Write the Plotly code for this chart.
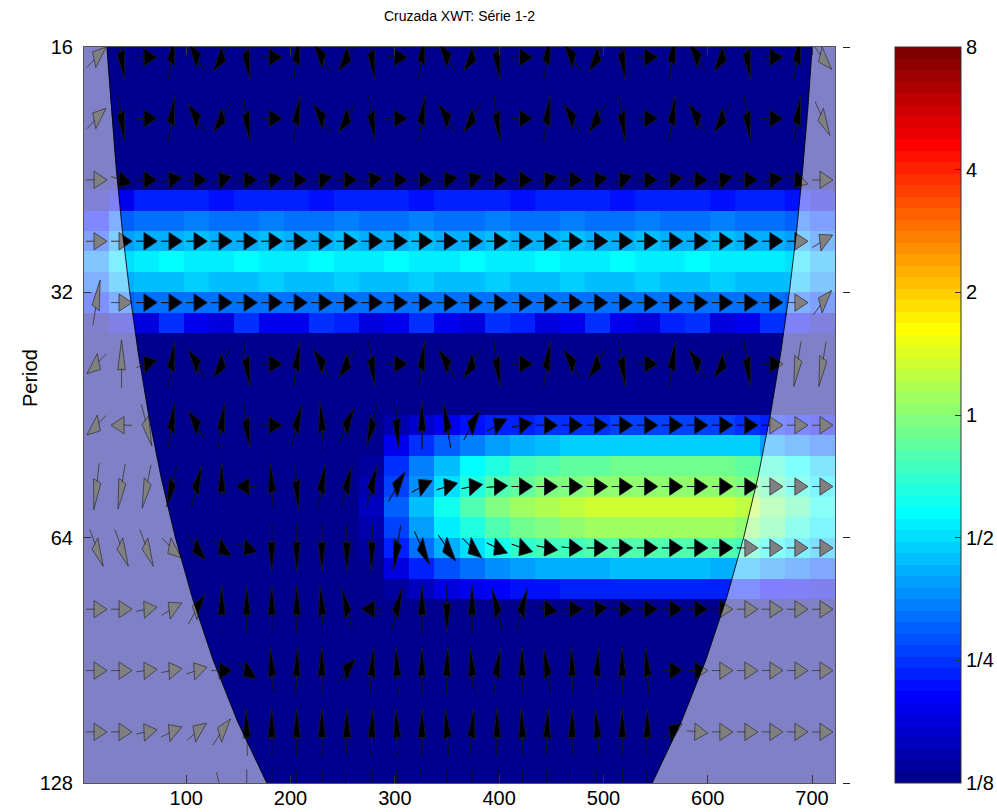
import numpy as np
import plotly.graph_objects as go

FONT = "Liberation Sans, Arial, Helvetica, sans-serif"

# ---------------------------------------------------------------- geometry (px)
W, H = 997, 812
PLOT_L, PLOT_R, PLOT_T, PLOT_B = 84, 835, 47, 783
CBAR_L, CBAR_R = 895, 961
PAPER_W = CBAR_R - PLOT_L


def paper_x(p):
    return (p - PLOT_L) / PAPER_W


def paper_y(p):
    return (PLOT_B - p) / (PLOT_B - PLOT_T)


T_MIN, T_MAX = 2, 722
LOG_TOP, LOG_BOT = 4, 7
PX_PER_T = (PLOT_R - PLOT_L) / (T_MAX - T_MIN)
PX_PER_OCT = (PLOT_B - PLOT_T) / (LOG_BOT - LOG_TOP)

# ---------------------------------------------------------------- data
time_cols = [14, 38, 62, 86, 110, 134, 158, 182, 206, 230, 254, 278, 302, 326, 350,
             374, 398, 422, 446, 470, 494, 518, 542, 566, 590, 614, 638, 662, 686, 710]

periods = [16.47, 17.45, 18.49, 19.58, 20.75, 21.98, 23.29, 24.68, 26.14, 27.70,
           29.34, 31.09, 32.94, 34.90, 36.97, 39.17, 41.50, 43.97, 46.58, 49.35,
           52.29, 55.39, 58.69, 62.18, 65.88, 69.79, 73.94, 78.34, 83.00, 87.93,
           93.16, 98.70, 104.57, 110.79, 117.38, 124.36]

# cross-wavelet power, log2 units (one list per period row, one value per time column)
power_log2 = [
    [-3.4] * 30,
    [-3.4] * 30,
    [-3.4] * 30,
    [-3.4] * 30,
    [-3.4] * 30,
    [-3.4] * 30,
    [-3.4] * 30,
    [-2.8, -2.4, -2.15, -2.1, -2.15, -2.2, -2.15, -2.1, -2.15, -2.2, -2.15, -2.1, -2.15, -2.2, -2.15,
     -2.1, -2.15, -2.2, -2.15, -2.1, -2.15, -2.2, -2.15, -2.1, -2.15, -2.2, -2.15, -2.15, -2.25, -2.5],
    [-2.2, -1.75, -1.6, -1.6, -1.55, -1.6, -1.6, -1.55, -1.6, -1.6, -1.55, -1.6, -1.6, -1.55, -1.6,
     -1.6, -1.55, -1.6, -1.6, -1.55, -1.6, -1.6, -1.55, -1.6, -1.6, -1.55, -1.6, -1.6, -1.7, -1.95],
    [-1.9, -1.35, -1.25, -1.25, -1.2, -1.25, -1.25, -1.2, -1.25, -1.25, -1.2, -1.25, -1.25, -1.2, -1.25,
     -1.25, -1.2, -1.25, -1.25, -1.2, -1.25, -1.25, -1.2, -1.25, -1.25, -1.2, -1.25, -1.25, -1.35, -1.6],
    [-1.5, -0.95, -0.85, -0.83, -0.87, -0.85, -0.83, -0.87, -0.85, -0.83, -0.87, -0.85, -0.83, -0.87, -0.85,
     -0.83, -0.87, -0.85, -0.83, -0.87, -0.85, -0.83, -0.87, -0.85, -0.83, -0.87, -0.85, -0.88, -0.95, -1.25],
    [-1.7, -1.25, -1.15, -1.15, -1.1, -1.15, -1.15, -1.1, -1.15, -1.15, -1.1, -1.15, -1.15, -1.1, -1.15,
     -1.15, -1.1, -1.15, -1.15, -1.1, -1.15, -1.15, -1.1, -1.15, -1.15, -1.1, -1.15, -1.15, -1.2, -1.5],
    [-2.1, -1.7, -1.6, -1.6, -1.65, -1.6, -1.6, -1.65, -1.6, -1.6, -1.65, -1.6, -1.6, -1.65, -1.6,
     -1.6, -1.65, -1.6, -1.6, -1.65, -1.6, -1.6, -1.65, -1.6, -1.6, -1.65, -1.6, -1.6, -1.7, -1.95],
    [-2.9, -2.6, -2.45, -2.0, -2.35, -2.5, -2.0, -2.35, -2.4, -2.0, -2.1, -2.45, -2.35, -2.0, -2.35,
     -2.5, -2.05, -2.1, -2.45, -2.35, -2.0, -2.35, -2.45, -2.1, -2.05, -2.45, -2.35, -2.0, -2.4, -2.7],
    [-3.4] * 30,
    [-3.4] * 30,
    [-3.4] * 30,
    [-3.4] * 30,
    [-3.4] * 10 + [-3.33, -3.14, -2.79, -2.57, -2.39, -2.25, -2.14, -2.07, -2.02, -1.99,
                   -1.97, -1.96, -1.95, -1.95, -1.95, -1.96, -1.99, -2.12, -2.25, -2.37],
    [-3.4] * 10 + [-3.28, -2.98, -2.41, -2.06, -1.76, -1.54, -1.36, -1.24, -1.17, -1.12,
                   -1.09, -1.06, -1.05, -1.05, -1.05, -1.07, -1.12, -1.33, -1.54, -1.73],
    [-3.4] * 10 + [-3.24, -2.82, -2.04, -1.55, -1.13, -0.83, -0.57, -0.41, -0.31, -0.25,
                   -0.2, -0.17, -0.15, -0.15, -0.15, -0.18, -0.25, -0.54, -0.83, -1.09],
    [-3.4] * 10 + [-3.23, -2.77, -1.94, -1.42, -0.96, -0.65, -0.37, -0.2, -0.09, -0.02,
                   0.03, 0.06, 0.08, 0.08, 0.08, 0.05, -0.02, -0.34, -0.65, -0.93],
    [-3.4] * 10 + [-3.21, -2.71, -1.78, -1.21, -0.7, -0.36, -0.05, 0.14, 0.26, 0.33,
                   0.39, 0.43, 0.45, 0.45, 0.45, 0.41, 0.33, -0.01, -0.36, -0.67],
    [-3.4] * 10 + [-3.22, -2.76, -1.91, -1.38, -0.92, -0.6, -0.31, -0.13, -0.03, 0.04,
                   0.1, 0.13, 0.15, 0.15, 0.15, 0.11, 0.04, -0.28, -0.6, -0.88],
    [-3.4] * 10 + [-3.25, -2.84, -2.1, -1.63, -1.23, -0.95, -0.7, -0.55, -0.46, -0.39,
                   -0.35, -0.32, -0.3, -0.3, -0.3, -0.33, -0.39, -0.67, -0.95, -1.2],
    [-3.4] * 10 + [-3.29, -3.0, -2.48, -2.15, -1.86, -1.66, -1.49, -1.38, -1.31, -1.27,
                   -1.23, -1.21, -1.2, -1.2, -1.2, -1.22, -1.27, -1.46, -1.66, -1.84],
    [-3.4] * 10 + [-3.34, -3.17, -2.85, -2.66, -2.49, -2.37, -2.27, -2.2, -2.17, -2.14,
                   -2.12, -2.11, -2.1, -2.1, -2.1, -2.11, -2.14, -2.26, -2.37, -2.48],
    [-3.4] * 30,
    [-3.4] * 30,
    [-3.4] * 30,
    [-3.4] * 30,
    [-3.4] * 30,
    [-3.4] * 30,
    [-3.4] * 30,
    [-3.4] * 30,
    [-3.4] * 30,
]

# relative phase (degrees) on every third period row, at each time column
arrow_periods = [16.47, 19.58, 23.29, 27.70, 32.94, 39.17, 46.58, 55.39, 65.88,
                 78.34, 93.16, 110.79, 131.75]
arrow_phase_deg = [
    [25, -72, 0, 72, 144, -144, -72, 0, 72, 144, -144, -72, 0, 72, 144,
     -144, -72, 0, 72, 144, -144, -72, 0, 72, 144, -144, -72, 0, 72, -30],
    [25, -72, 0, 72, 144, -144, -72, 0, 72, 144, -144, -72, 0, 72, 144,
     -144, -72, 0, 72, 144, -144, -72, 0, 72, 144, -144, -72, 0, 72, -45],
    [0, -8, 0, 6, 0, 8, 0, 5, 0, 8, 0, 5, 0, 0, 6,
     10, 0, 0, 8, 0, 5, 10, 0, 5, 0, 8, 0, 5, -10, 0],
    [0, 0, 0, 0, 0, 0, 0, 0, 0, 0, 0, 0, 0, 0, 0,
     0, 0, 0, 0, 0, 0, 0, 0, 0, 0, 0, 0, 0, 0, 15],
    [70, 0, 0, 0, 0, 0, 0, 0, 0, 0, 0, 0, 0, 0, 0,
     0, 0, 0, 0, 0, 0, 0, 0, 0, 0, 0, 0, 0, 0, 30],
    [-156, 90, 9, 72, 144, -144, -72, 0, 72, 144, -144, -72, 0, 72, 144,
     -144, -72, 0, 72, 144, -144, -72, 0, 72, 144, -144, -72, 0, -110, -110],
    [-156, 180, -60, 72, 144, 72, -72, 0, 60, 100, 45, -120, -80, 90, 110,
     38, 15, 5, 0, 0, 0, 0, 0, 0, 0, 0, 0, 0, 0, 0],
    [-105, -110, -115, -120, 60, 90, 180, 100, -80, 70, 60, 60, 38, 14, 8,
     5, 2, 0, 0, 0, 0, 0, 0, 0, 0, 0, 0, 0, 0, 0],
    [-50, -50, -50, -24, -30, -20, -9, -90, -90, -90, -90, -95, -111, -44, -33,
     -24, -12, -9, -5, -2, 0, 0, 0, 0, 0, 0, 0, 0, 0, 0],
    [0, 0, 5, 15, 38, 90, 90, 90, 90, 100, 120, 180, 60, 90, -90,
     90, 120, 60, -5, 0, 5, 0, 0, 0, 0, 0, 0, 0, 0, 0],
    [0, 0, 3, 5, 8, 0, -20, 100, 85, 90, 30, 80, 95, 90, 85,
     100, 70, 90, 110, 95, 80, 90, 100, 0, 0, 0, 0, 0, 0, 0],
    [0, 0, 5, 12, 21, 33, 94, 90, 90, 90, 90, 85, 95, 90, 100,
     80, 90, 95, 85, 90, 100, 90, 90, 20, -3, 0, 0, 0, 0, 0],
    [0, 0, 0, 0, 0, -60, -90, -90, -85, -90, -95, -90, -90, -85, -90,
     -90, -95, -90, -90, -85, -90, -90, -90, 0, 0, 0, 0, 0, 0, 0],
]

# cone of influence: boundary time on each side for a given period
coi_period = [16, 19.03, 22.63, 26.91, 32, 38.05, 45.25, 53.82, 64, 76.11, 90.51, 107.63, 128]
coi_t_left = [23.9, 28.1, 33.0, 38.8, 45.8, 54.1, 64.0, 75.7, 89.6, 106.2, 125.9, 149.3, 177.2]
coi_t_right = [700.1, 696.0, 691.0, 685.2, 678.2, 669.9, 660.0, 648.3, 634.4, 617.8, 598.1, 574.7, 546.8]

y_tick_periods = [16, 32, 64, 128]
x_tick_vals = [100, 200, 300, 400, 500, 600, 700]
cbar_tick_vals = [-3, -2, -1, 0, 1, 2, 3]
cbar_tick_text = ["1/8", "1/4", "1/2", "1", "2", "4", "8"]
CMIN, CMAX = -3, 3


# ---------------------------------------------------------------- colormap (jet, 64 levels)
def jet(m=64):
    n = int(np.ceil(m / 4))
    u = np.concatenate([np.arange(1, n + 1) / n, np.ones(n - 1), np.arange(n, 0, -1) / n])
    g = int(np.ceil(n / 2)) - (1 if m % 4 == 1 else 0) + np.arange(1, len(u) + 1)
    r = g + n
    b = g - n
    cmap = np.zeros((m, 3))
    gm = g[g <= m]
    rm = r[r <= m]
    bm = b[b >= 1]
    cmap[gm - 1, 1] = u[:len(gm)]
    cmap[rm - 1, 0] = u[:len(rm)]
    cmap[bm - 1, 2] = u[len(u) - len(bm):]
    return cmap


cmap = jet(64)
colorscale = []
for i, (r, g, b) in enumerate(cmap):
    col = f"rgb({int(round(r * 255))},{int(round(g * 255))},{int(round(b * 255))})"
    colorscale.append([i / 64, col])
    colorscale.append([(i + 1) / 64, col])

# ---------------------------------------------------------------- figure
fig = go.Figure()

fig.add_trace(go.Heatmap(
    x=time_cols, y=np.log2(periods), z=power_log2,
    zmin=CMIN, zmax=CMAX, colorscale=colorscale, hoverinfo="skip",
    colorbar=dict(
        x=paper_x(CBAR_L), xanchor="left", xref="paper", xpad=0, ypad=0,
        y=0.5, yanchor="middle", len=1, lenmode="fraction",
        thickness=CBAR_R - CBAR_L, thicknessmode="pixels",
        outlinewidth=1, outlinecolor="#333333",
        ticks="inside", ticklen=6, tickcolor="#333333", tickwidth=1,
        tickvals=cbar_tick_vals, ticktext=cbar_tick_text,
        tickfont=dict(family=FONT, size=20, color="black"),
    ),
))

# phase arrows: thin shaft plus filled head, sized in screen pixels
HALF_X, HALF_Y = 10.5, 24.0     # half length of an arrow along x / y (px)
HEAD_BASE, HEAD_HALF_W = -0.24, 0.36

head_x, head_y, stem_x, stem_y, edge_x, edge_y = [], [], [], [], [], []
for p, row in zip(arrow_periods, arrow_phase_deg):
    y0 = np.log2(p)
    for t0, ph in zip(time_cols, row):
        a = np.deg2rad(ph)
        c, s = np.cos(a), np.sin(a)

        def to_data(u, v):
            ur, vr = u * c - v * s, u * s + v * c
            return t0 + ur * HALF_X / PX_PER_T, y0 - vr * HALF_Y / PX_PER_OCT

        tri = [to_data(1, 0), to_data(HEAD_BASE, HEAD_HALF_W),
               to_data(HEAD_BASE, -HEAD_HALF_W), to_data(1, 0)]
        stem = [to_data(-1, 0), to_data(HEAD_BASE + 0.05, 0)]
        for (xx, yy) in tri:
            head_x.append(xx); head_y.append(yy)
            edge_x.append(xx); edge_y.append(yy)
        head_x.append(None); head_y.append(None)
        edge_x.append(None); edge_y.append(None)
        for (xx, yy) in stem:
            stem_x.append(xx); stem_y.append(yy)
            edge_x.append(xx); edge_y.append(yy)
        stem_x.append(None); stem_y.append(None)
        edge_x.append(None); edge_y.append(None)

fig.add_trace(go.Scatter(x=stem_x, y=stem_y, mode="lines",
                         line=dict(color="black", width=1),
                         hoverinfo="skip", showlegend=False))
fig.add_trace(go.Scatter(x=head_x, y=head_y, mode="lines", fill="toself",
                         fillcolor="black", line=dict(color="black", width=0.6),
                         hoverinfo="skip", showlegend=False))

# cone of influence shading (white, half transparent) on both sides
log_coi = list(np.log2(coi_period))
shade_x = [T_MIN] + coi_t_left + [T_MIN, None, T_MAX] + coi_t_right + [T_MAX]
shade_y = [LOG_TOP] + log_coi + [LOG_BOT, None, LOG_TOP] + log_coi + [LOG_BOT]
fig.add_trace(go.Scatter(x=shade_x, y=shade_y, mode="lines", fill="toself",
                         fillcolor="rgba(255,255,255,0.5)", line=dict(width=0),
                         hoverinfo="skip", showlegend=False))

# darker outlines keep shaded arrows readable
fig.add_trace(go.Scatter(x=edge_x, y=edge_y, mode="lines",
                         line=dict(color="rgba(35,35,55,0.7)", width=0.9),
                         hoverinfo="skip", showlegend=False))

# cone boundary
fig.add_trace(go.Scatter(x=coi_t_left + [None] + coi_t_right,
                         y=log_coi + [None] + log_coi, mode="lines",
                         line=dict(color="rgba(0,0,0,0.85)", width=1),
                         hoverinfo="skip", showlegend=False))

# helper trace for the secondary (right-hand) tick axis
fig.add_trace(go.Scatter(x=[T_MIN], y=[LOG_TOP], yaxis="y2", mode="markers",
                         marker=dict(opacity=0), hoverinfo="skip", showlegend=False))

y_ticks = list(np.log2(y_tick_periods))

# tick marks on the left edge of the colour bar (mirroring the right-hand ones)
cbar_left_ticks = [
    dict(type="line", xref="paper", yref="paper",
         x0=paper_x(CBAR_L), x1=paper_x(CBAR_L + 6),
         y0=(v - CMIN) / (CMAX - CMIN), y1=(v - CMIN) / (CMAX - CMIN),
         line=dict(color="#333333", width=1))
    for v in cbar_tick_vals[1:-1]
]

fig.update_layout(
    width=W, height=H,
    margin=dict(l=PLOT_L, r=W - CBAR_R, t=PLOT_T, b=H - PLOT_B, pad=0,
                autoexpand=False),
    paper_bgcolor="white", plot_bgcolor="white",
    showlegend=False,
    font=dict(family=FONT, color="black"),
    xaxis=dict(
        domain=[0, paper_x(PLOT_R)], range=[T_MIN, T_MAX], automargin=False,
        tickvals=x_tick_vals, ticks="inside", ticklen=8, tickcolor="#333333",
        showline=True, linecolor="#555555", linewidth=1, mirror="ticks",
        showgrid=False, zeroline=False,
        tickfont=dict(family=FONT, size=20, color="black"),
        ticklabelstandoff=-3,
    ),
    yaxis=dict(
        range=[LOG_BOT, LOG_TOP], tickvals=y_ticks, automargin=False,
        ticktext=[str(p) for p in y_tick_periods],
        ticks="inside", ticklen=7, tickcolor="#333333",
        showline=True, linecolor="#555555", linewidth=1, mirror=True,
        showgrid=False, zeroline=False,
        tickfont=dict(family=FONT, size=20, color="black"),
        ticklabelstandoff=6,
    ),
    yaxis2=dict(
        overlaying="y", anchor="free", side="right", automargin=False,
        position=paper_x(842), range=[LOG_BOT, LOG_TOP], tickvals=y_ticks,
        ticks="outside", ticklen=7, tickcolor="#222222",
        showticklabels=False, showline=False, showgrid=False, zeroline=False,
    ),
    shapes=cbar_left_ticks,
    annotations=[
        dict(text="Cruzada XWT: Série 1-2", xref="paper", yref="paper",
             x=paper_x((PLOT_L + PLOT_R) / 2), y=paper_y(16), xanchor="center",
             yanchor="middle", showarrow=False,
             font=dict(family=FONT, size=14, color="black")),
        dict(text="Period", xref="paper", yref="paper",
             x=paper_x(30), y=paper_y(378), xanchor="center", yanchor="middle",
             textangle=-90, showarrow=False,
             font=dict(family=FONT, size=20, color="black")),
    ],
)

fig.write_html("out.html")
